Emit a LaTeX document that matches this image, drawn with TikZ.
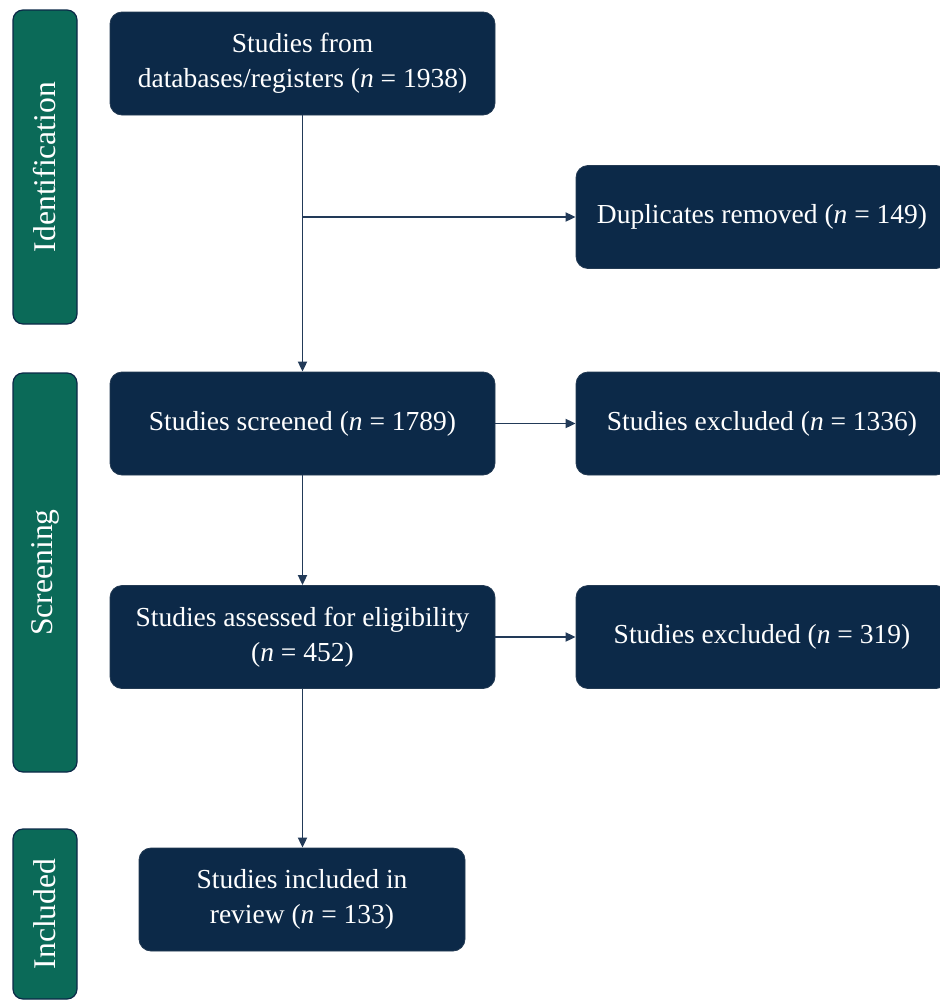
\documentclass[tikz,border=0pt]{standalone}
\usepackage{fontspec}
\setmainfont{Liberation Serif}
\usetikzlibrary{arrows.meta,positioning}

\definecolor{navy}{RGB}{12,41,72}
\definecolor{phasegreen}{RGB}{11,106,88}
\definecolor{linkcol}{RGB}{34,58,88}

\tikzset{
  stage/.style={fill=navy, draw=navy!80!gray, rounded corners=6pt, text=white,
    align=center, inner sep=0pt, minimum width=192.5pt, minimum height=51.5pt,
    font=\fontsize{13.75}{17.5}\selectfont},
  phase/.style={fill=phasegreen, draw=navy, line width=0.6pt, rounded corners=5pt,
    text=white, rotate=90, inner sep=0pt, minimum height=32pt,
    font=\fontsize{15.8}{18}\selectfont},
  flow/.style={draw=linkcol, line width=0.9pt, -{Triangle[length=5pt,width=4.5pt]}}
}

\begin{document}
\begin{tikzpicture}[x=0.5pt,y=-0.5pt]
    \useasboundingbox (0,0) rectangle (940,1001);
    % Phase bars
    \node[phase, minimum width=157pt] (idph) at (45,167) {Identification};
    \node[phase, minimum width=199.5pt] (scph) at (45,572.5) {Screening};
    \node[phase, minimum width=85pt] (inph) at (45,914) {Included};
    % Main column
    \node[stage] (src) at (302.5,63.5) {Studies from\\databases/registers (\textit{n} = 1938)};
    \node[stage] (scr) at (302.5,423.5) {Studies screened (\textit{n} = 1789)};
    \node[stage] (elig) at (302.5,637) {Studies assessed for eligibility\\(\textit{n} = 452)};
    \node[stage, minimum width=163pt] (incl) at (302,899.5) {Studies included in\\review (\textit{n} = 133)};
    % Side column
    \node[stage, minimum width=186pt] (dup) at (762,217) {Duplicates removed (\textit{n} = 149)};
    \node[stage, minimum width=186pt] (excla) at (762,423.5) {Studies excluded (\textit{n} = 1336)};
    \node[stage, minimum width=186pt] (exclb) at (762,637) {Studies excluded (\textit{n} = 319)};
    % Connectors
    \coordinate (split) at (src.south |- dup.west);
    \draw[flow] (src) -- (scr);
    \draw[flow] (split) -- (dup.west);
    \draw[flow] (scr) -- (excla);
    \draw[flow] (scr) -- (elig);
    \draw[flow] (elig) -- (exclb);
    \draw[flow] (elig.south) -- (elig.south |- incl.north);
\end{tikzpicture}
\end{document}
